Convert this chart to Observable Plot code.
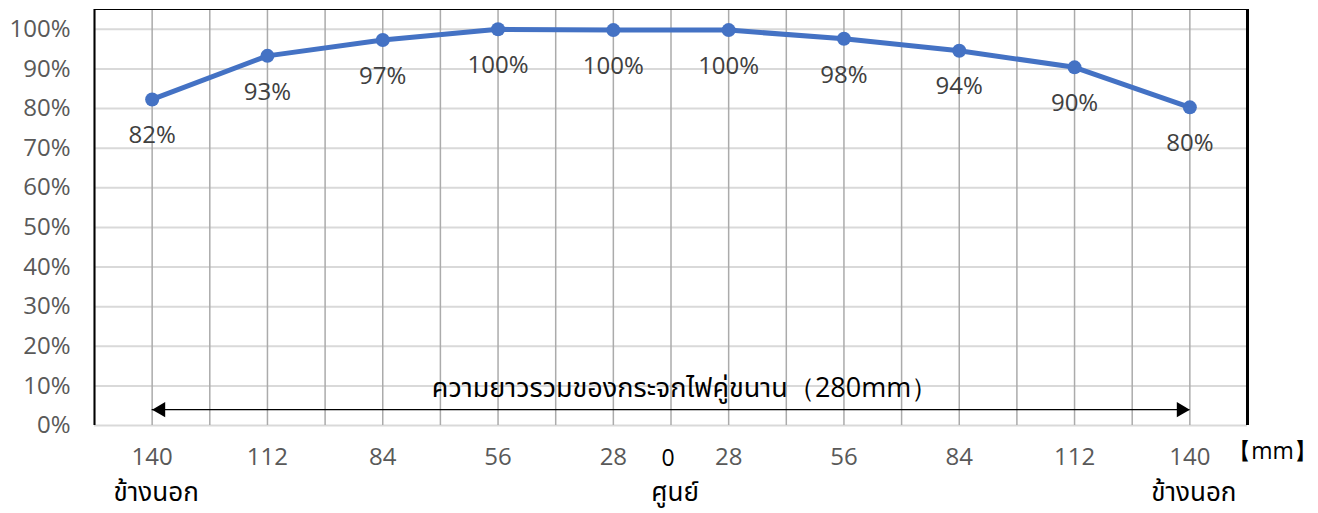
<!DOCTYPE html>
<html>
<head>
<meta charset="utf-8">
<script src="https://cdn.jsdelivr.net/npm/d3@7"></script>
<script src="https://cdn.jsdelivr.net/npm/@observablehq/plot@0.6"></script>
<style>
  html, body { margin: 0; padding: 0; background: #fff; }
  #chart svg { display: block; }
</style>
</head>
<body>
<div id="chart"></div>
<script>
// ---- data ----
const xLabels = ["140", "112", "84", "56", "28", "28", "56", "84", "112", "140"];
const values = [82.3, 93.3, 97.3, 100, 99.8, 99.8, 97.6, 94.6, 90.4, 80.3];
const valueLabels = ["82%", "93%", "97%", "100%", "100%", "100%", "98%", "94%", "90%", "80%"];
const yTicks = [0, 10, 20, 30, 40, 50, 60, 70, 80, 90, 100];
const sideLabels = ["ข้างนอก", "ศูนย์", "ข้างนอก"];
const centerLabel = "0";
const unitLabel = "【mm】";
const spanLabel = "ความยาวรวมของกระจกไฟคู่ขนาน（280mm）";
const spanY = 4;        // arrow level (%)
const spanTextY = 9.4;  // text level (%)

// category slots: 20 half-steps, points on odd slots
const slots = xLabels.map((_, i) => 2 * i + 1);
const gridSlots = d3.range(0, 21);
const centerSlot = 10;
const rows = values.map((v, i) => ({slot: slots[i], value: v, label: valueLabels[i], tick: xLabels[i]}));
const sideRows = [
  {slot: slots[0], t: sideLabels[0]},
  {slot: centerSlot, t: sideLabels[1]},
  {slot: slots[slots.length - 1], t: sideLabels[2]}
];

const font = "'Open Sans', 'Noto Sans', 'Noto Sans Thai', 'DejaVu Sans', sans-serif";
const blue = "#4472C4";

const chart = Plot.plot({
  width: 1318,
  height: 513,
  marginLeft: 94,
  marginRight: 71,
  marginTop: 9,
  marginBottom: 88,
  style: {fontFamily: font, background: "#fff"},
  x: {domain: [0, 20], axis: null},
  y: {domain: [0, 105], axis: null},
  marks: [
    // horizontal gridlines
    Plot.ruleY(yTicks, {stroke: "#d9d9d9", strokeWidth: 2}),
    // vertical gridlines
    Plot.ruleX(gridSlots, {y1: 0, y2: 105, stroke: "#ababab", strokeWidth: 1.5}),
    // frame
    Plot.ruleX([0], {y1: 0, y2: 105, stroke: "#000", strokeWidth: 2}),
    Plot.ruleX([20], {y1: 0, y2: 105, stroke: "#000", strokeWidth: 3}),
    Plot.ruleY([105], {x1: 0, x2: 20, stroke: "#000", strokeWidth: 1}),
    // y axis labels
    Plot.axisY({ticks: yTicks, tickFormat: d => d + "%", label: null, tickSize: 0, tickPadding: 24, fontSize: 24, color: "#595959", fill: "#595959"}),
    // x tick labels
    Plot.text(rows, {x: "slot", text: "tick", frameAnchor: "bottom", dy: 39, fontSize: 24, fill: "#595959"}),
    Plot.text([centerLabel], {x: [centerSlot], text: d => d, frameAnchor: "bottom", dy: 40, dx: -3, fontSize: 23, fill: "#000"}),
    Plot.text(sideRows, {x: "slot", text: "t", frameAnchor: "bottom", dy: 75, dx: 4, fontSize: 26, fill: "#000"}),
    Plot.text([unitLabel], {text: d => d, frameAnchor: "bottom-right", dx: 25, dy: 33, textAnchor: "middle", fontSize: 23, fill: "#000"}),
    // span arrow
    Plot.ruleY([spanY], {x1: slots[0], x2: slots[slots.length - 1], stroke: "#000", strokeWidth: 1.2}),
    Plot.dot([slots[0]], {x: d => d, y: spanY, symbol: "triangle", r: 5.6, fill: "#000", rotate: -90, dx: 8.7}),
    Plot.dot([slots[slots.length - 1]], {x: d => d, y: spanY, symbol: "triangle", r: 5.6, fill: "#000", rotate: 90, dx: -8.7}),
    Plot.text([spanLabel], {x: [centerSlot], y: [spanTextY], text: d => d, dx: 14, fontSize: 27, fill: "#000"}),
    // series
    Plot.line(rows, {x: "slot", y: "value", stroke: blue, strokeWidth: 5}),
    Plot.dot(rows, {x: "slot", y: "value", r: 7, fill: blue}),
    Plot.text(rows, {x: "slot", y: "value", text: "label", dy: 36, fontSize: 24, fill: "#404040"})
  ]
});
document.getElementById("chart").appendChild(chart);
</script>
</body>
</html>
